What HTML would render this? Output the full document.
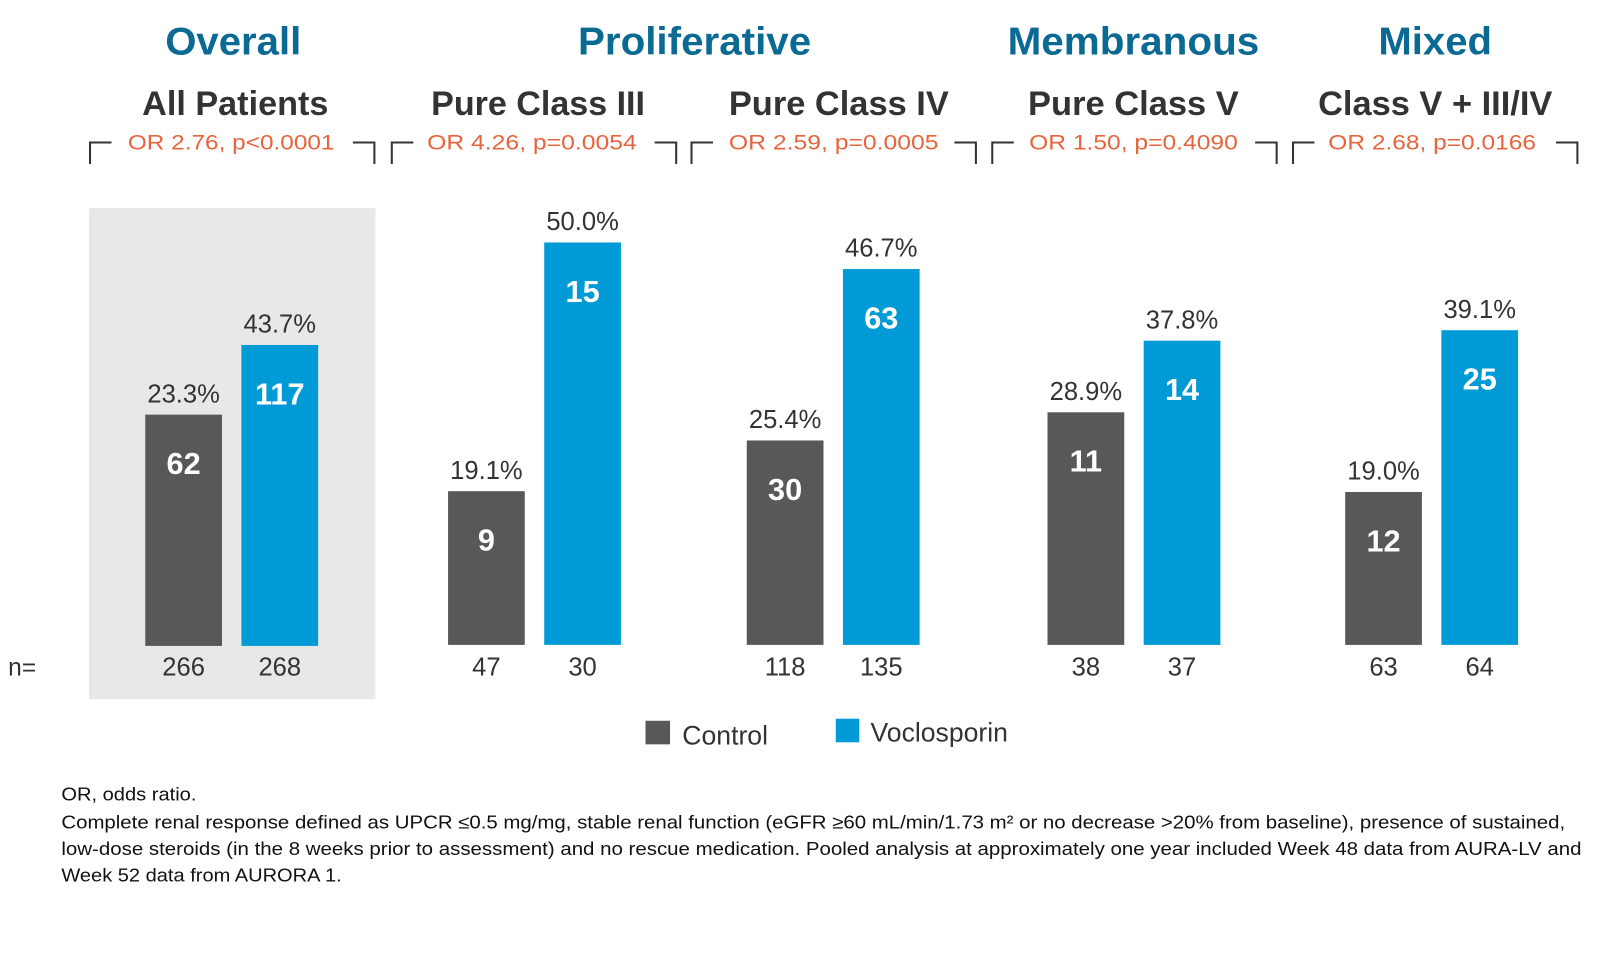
<!DOCTYPE html>
<html><head><meta charset="utf-8"><style>
html,body{margin:0;padding:0;background:#fff;width:1604px;height:974px;overflow:hidden}
svg{display:block}
text{font-family:"Liberation Sans",sans-serif}
</style></head><body>
<svg id="chart" width="1604" height="974" viewBox="0 0 1568 950" preserveAspectRatio="none" xmlns="http://www.w3.org/2000/svg">
<rect x="87" y="203" width="280" height="479" fill="#e8e8e8"/>
<g id="heads"></g>
<g id="bars"></g>
<text x="8" y="659" font-size="24" fill="#333">n=</text>
<g>
<rect x="631" y="703" width="24" height="23" fill="#58585a"/>
<text x="667" y="726" font-size="26" fill="#333">Control</text>
<rect x="817" y="701" width="23" height="23" fill="#009ad6"/>
<text x="851" y="723" font-size="26" fill="#333">Voclosporin</text>
</g>
<g font-size="18" fill="#111">
<text x="60" y="781" textLength="132" lengthAdjust="spacingAndGlyphs">OR, odds ratio.</text>
<text x="60" y="808" textLength="1470" lengthAdjust="spacingAndGlyphs">Complete renal response defined as UPCR ≤0.5 mg/mg, stable renal function (eGFR ≥60 mL/min/1.73 m² or no decrease &gt;20% from baseline), presence of sustained,</text>
<text x="60" y="834" textLength="1486" lengthAdjust="spacingAndGlyphs">low-dose steroids (in the 8 weeks prior to assessment) and no rescue medication. Pooled analysis at approximately one year included Week 48 data from AURA-LV and</text>
<text x="60" y="860" textLength="274" lengthAdjust="spacingAndGlyphs">Week 52 data from AURORA 1.</text>
</g>
</svg>
<script>
const groups=["Overall","Proliferative","Membranous","Mixed"];
const subgroups=["All Patients","Pure Class III","Pure Class IV","Pure Class V","Class V + III/IV"];
const orLabels=["OR 2.76, p<0.0001","OR 4.26, p=0.0054","OR 2.59, p=0.0005","OR 1.50, p=0.4090","OR 2.68, p=0.0166"];
const controlPct=[23.3,19.1,25.4,28.9,19.0];
const voclosporinPct=[43.7,50.0,46.7,37.8,39.1];
const controlCount=[62,9,30,11,12];
const voclosporinCount=[117,15,63,14,25];
const controlN=[266,47,118,38,63];
const voclosporinN=[268,30,135,37,64];

const NS="http://www.w3.org/2000/svg";
function mk(tag,attrs,parent,txt){const e=document.createElementNS(NS,tag);for(const k in attrs)e.setAttribute(k,attrs[k]);if(txt!==undefined)e.textContent=txt;parent.appendChild(e);return e;}
const heads=document.getElementById('heads');
const barsG=document.getElementById('bars');
const panelLeft=[88,383,676,970,1264];
const panelW=278;
const ctrlX=[142,438,730,1024,1315];
const barW=75, gap=19;
const baseline=[630,629,629,629,629];
function yScale(i,v){ if(i===0){return baseline[0]-(148+3.33*v);} return baseline[i]-7.85*v; }
const groupCenters=[228,679,1108,1403];
const groupLen=[133,228,246,111];
groups.forEach((g,i)=>{
 const t=mk('text',{x:groupCenters[i],y:53,'text-anchor':'middle','font-size':38,'font-weight':'bold',fill:'#0a6a93',textLength:groupLen[i],lengthAdjust:'spacingAndGlyphs'},heads,g);
 
 
});
const subC=[230,526,820,1108,1403], subL=[182,209,215,206,229];
const orC=[226,520,815,1108,1400], orL=[202,205,205,204,203];
subgroups.forEach((s,i)=>{
 const t=mk('text',{x:subC[i],y:112,'text-anchor':'middle','font-size':33,'font-weight':'bold',fill:'#333',textLength:subL[i],lengthAdjust:'spacingAndGlyphs'},heads,s);
 
 
 const o=mk('text',{x:orC[i],y:146,'text-anchor':'middle','font-size':21,fill:'#e8643c',textLength:orL[i],lengthAdjust:'spacingAndGlyphs'},heads,orLabels[i]);
 
 
 const L=panelLeft[i],R=L+panelW;
 const b1=mk('path',{d:`M${L} 160 V139 H${L+21}`,fill:'none',stroke:'#333','stroke-width':2},heads);
 
 
 const b2=mk('path',{d:`M${R-21} 139 H${R} V160`,fill:'none',stroke:'#333','stroke-width':2},heads);
 
 
});
function drawBar(i,x,pct,cnt,n,color,name){
 const top=yScale(i,pct);
 const r=mk('rect',{x:x,y:top,width:barW,height:baseline[i]-top,fill:color},barsG);
 
 
 const p=mk('text',{x:x+barW/2,y:top-12,'text-anchor':'middle','font-size':25,fill:'#333'},barsG,pct.toFixed(1)+'%');
 
 
 const c=mk('text',{x:x+barW/2,y:top+58,'text-anchor':'middle','font-size':30,'font-weight':'bold',fill:'#fff'},barsG,cnt);
 
 
 const nn=mk('text',{x:x+barW/2,y:659,'text-anchor':'middle','font-size':25,fill:'#333'},barsG,n);
 
 
}
subgroups.forEach((s,i)=>{
 drawBar(i,ctrlX[i],controlPct[i],controlCount[i],controlN[i],'#58585a','control');
 drawBar(i,ctrlX[i]+barW+gap,voclosporinPct[i],voclosporinCount[i],voclosporinN[i],'#009ad6','voclosporin');
});
</script>
</body></html>
